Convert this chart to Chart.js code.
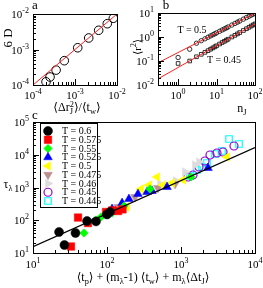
<!DOCTYPE html>
<html>
<head>
<meta charset="utf-8">
<script src="https://cdn.jsdelivr.net/npm/chart.js@4.4.1/dist/chart.umd.min.js"></script>
<style>
  body { margin: 0; width: 263px; height: 288px; position: relative; overflow: hidden; background: #fff;
         font-family: "Liberation Serif", "DejaVu Serif", serif; color: #000; }
  canvas { position: absolute; }
  .lbl { position: absolute; white-space: nowrap; line-height: 1; transform: translate(-50%, -50%); }
  .lbl sub, .lbl sup { font-size: 70%; line-height: 0; }
  .ss { display: inline-block; vertical-align: middle; line-height: 0.85; font-size: 70%; text-align: left; }
  .ss span { display: block; }
  .rot { transform: translate(-50%, -50%) rotate(-90deg); }
</style>
</head>
<body>
<canvas id="chartA" width="130" height="120" style="left:0;top:0"></canvas>
<canvas id="chartB" width="133" height="120" style="left:130px;top:0"></canvas>
<canvas id="chartC" width="263" height="173" style="left:0;top:115px"></canvas>

<div class="lbl" style="left:35px;top:4px;font-size:13px">a</div>
<div class="lbl rot" style="left:7px;top:38px;font-size:13px">6 D</div>
<div class="lbl" style="left:77px;top:108px;font-size:12px">⟨Δr<span class="ss"><span>2</span><span>J</span></span>⟩/⟨t<sub>w</sub>⟩</div>

<div class="lbl" style="left:166px;top:4px;font-size:13px">b</div>
<div class="lbl rot" style="left:137px;top:47px;font-size:11px">⟨r<sup>2</sup>⟩</div>
<div class="lbl" style="left:242px;top:108px;font-size:12px">n<sub>J</sub></div>
<div class="lbl" style="left:192px;top:30px;font-size:10px">T = 0.5</div>
<div class="lbl" style="left:224px;top:60px;font-size:10px">T = 0.45</div>

<div class="lbl" style="left:35px;top:114px;font-size:13px">c</div>
<div class="lbl" style="left:8px;top:184px;font-size:12px">τ<sub>λ</sub></div>
<div class="lbl" style="left:143px;top:277px;font-size:12px">⟨t<sub>p</sub>⟩ + (m<sub>λ</sub>-1) ⟨t<sub>w</sub>⟩ + m<sub>λ</sub>⟨Δt<sub>J</sub>⟩</div>

<script>
// panel a: 6D against <dr_J^2>/<t_w>
const aX = [2.04e-4, 2.54e-4, 3.55e-4, 5.56e-4, 1.16e-3, 2.12e-3, 3.66e-3, 5.87e-3, 8.17e-3];
const aY = [1.23e-4, 1.68e-4, 2.63e-4, 4.84e-4, 1.12e-3, 2.11e-3, 3.48e-3, 5.33e-3, 7.57e-3];
const aFit = [[1e-4, 1e-4], [1e-2, 1e-2]];

// panel b: <r^2> against n_J
const nJ = [1, 2, 3, 4, 5, 6, 7, 8, 9, 10, 12, 14, 16, 18, 20, 25, 30, 35, 40, 50, 60, 70, 80, 90, 100];
const r2T050 = [0.14, 0.31, 0.55, 0.70, 0.84, 0.98, 1.11, 1.24, 1.36, 1.49, 1.73, 1.96, 2.18, 2.40, 2.62,
                3.15, 3.66, 4.15, 4.63, 5.56, 6.45, 7.33, 8.17, 9.0, 9.8];
const r2T045 = [0.079, 0.10, 0.15, 0.19, 0.23, 0.27, 0.31, 0.35, 0.39, 0.43, 0.51, 0.59, 0.66, 0.74, 0.81,
                1.0, 1.17, 1.35, 1.53, 1.87, 2.21, 2.54, 2.87, 3.19, 3.52];
const fitT050 = [[0.3, 0.084], [100, 9.8]];
const fitT045 = [[0.3, 0.018], [100, 3.5]];

// panel c: tau_lambda against <t_p> + (m-1)<t_w> + m<dt_J>
const c060 = [[22.5, 43.8], [26.6, 17.5], [37.5, 40.8], [53.7, 95], [71, 92], [100, 150], [110, 180]];
const c0575 = [[32.6, 15.8], [40.6, 121], [55.3, 82], [97, 179], [118, 200], [141, 191], [162, 215]];
const c055 = [[48.9, 40.8], [71, 102], [83, 126], [117, 166], [170, 272], [381, 900], [1365, 2093]];
const c0525 = [[117, 221], [160, 336], [198, 446], [262, 634], [348, 729], [406, 782], [647, 1035], [2316, 3937]];
const c050 = [[186, 254], [288, 900], [370, 1191], [474, 2093], [571, 1191], [756, 1371], [1064, 1694], [4188, 8530]];
const c0475 = [[141, 254], [239, 513], [488, 966], [830, 1279]];
const c046 = [[520, 1279], [856, 1578], [1132, 2972], [1545, 4865], [1750, 6010]];
const c045 = [[1244, 2093], [1452, 2409], [1750, 4227], [2109, 6440], [2466, 9820], [3063, 11300], [3696, 12130], [5200, 18500]];
const c0445 = [[1324, 2245], [1644, 3420], [1923, 4227], [2245, 5600], [2879, 10540], [3578, 13030], [4458, 30270], [6081, 21300]];
const cFit = [[10, 15.5], [10000, 16500]];
const cLabels = ['T = 0.6', 'T = 0.575', 'T = 0.55', 'T = 0.525', 'T = 0.5', 'T = 0.475', 'T = 0.46', 'T = 0.45', 'T = 0.445'];

const cSeries = [c060, c0575, c055, c0525, c050, c0475, c046, c045, c0445];
const cColors = ['#000000', '#ff0000', '#00ff00', '#0000ff', '#ffff00', '#bc8f8f', '#dcdcdc', '#9400d3', '#00ffff'];
const cShapes = ['circle', 'rect', 'rectRot', 'triangle', 'triangle', 'triangle', 'triangle', 'circle', 'rect'];
const cRot = [0, 0, 0, 0, -90, 180, 90, 0, 0];
const cOpen = [false, false, false, false, false, false, false, true, true];
const cSize = [4.5, 5.3, 4.2, 5, 5, 5, 5, 4, 4.6];

const serif = '"Liberation Serif", "DejaVu Serif", serif';
const pts = (xs, ys) => xs.map((x, i) => ({ x: x, y: ys[i] }));
const pairs = arr => arr.map(p => ({ x: p[0], y: p[1] }));

// "10" with a raised exponent
function drawPow(ctx, exp, x, y, align) {
  const ex = String(exp);
  ctx.font = '11px ' + serif;
  const wb = ctx.measureText('10').width;
  ctx.font = '8px ' + serif;
  const we = ctx.measureText(ex).width;
  const x0 = align === 'right' ? x - wb - we : x - (wb + we) / 2;
  ctx.textAlign = 'left';
  ctx.textBaseline = 'alphabetic';
  ctx.font = '11px ' + serif;
  ctx.fillText('10', x0, y + 4);
  ctx.font = '8px ' + serif;
  ctx.fillText(ex, x0 + wb, y - 1);
}

// box, inward log ticks on bottom/left, and power labels
const logAxes = {
  id: 'logAxes',
  afterDraw(chart, args, opts) {
    const { ctx, chartArea: a, scales } = chart;
    const x = scales.x, y = scales.y;
    ctx.save();
    ctx.strokeStyle = '#000';
    ctx.fillStyle = '#000';
    ctx.lineWidth = 1;
    ctx.beginPath();
    for (let e = Math.floor(Math.log10(x.min)); e <= Math.ceil(Math.log10(x.max)); e++) {
      for (let m = 1; m < 10; m++) {
        const v = m * Math.pow(10, e);
        if (v < x.min * 0.999 || v > x.max * 1.001) continue;
        const p = Math.round(x.getPixelForValue(v)) + 0.5;
        ctx.moveTo(p, a.bottom);
        ctx.lineTo(p, a.bottom - (m === 1 ? 6 : 3));
      }
    }
    for (let e = Math.floor(Math.log10(y.min)); e <= Math.ceil(Math.log10(y.max)); e++) {
      for (let m = 1; m < 10; m++) {
        const v = m * Math.pow(10, e);
        if (v < y.min * 0.999 || v > y.max * 1.001) continue;
        const p = Math.round(y.getPixelForValue(v)) + 0.5;
        ctx.moveTo(a.left, p);
        ctx.lineTo(a.left + (m === 1 ? 6 : 3), p);
      }
    }
    ctx.stroke();
    ctx.strokeRect(Math.round(a.left) + 0.5, Math.round(a.top) + 0.5,
                   Math.round(a.right - a.left), Math.round(a.bottom - a.top));
    opts.xExp.forEach(e => drawPow(ctx, e, x.getPixelForValue(Math.pow(10, e)), a.bottom + opts.xGap, 'center'));
    opts.yExp.forEach(e => drawPow(ctx, e, a.left - 4, y.getPixelForValue(Math.pow(10, e)), 'right'));
    ctx.restore();
  }
};

// framed legend inside panel c
const boxLegend = {
  id: 'boxLegend',
  afterDraw(chart, args, opts) {
    const ctx = chart.ctx;
    ctx.save();
    ctx.fillStyle = '#fff';
    ctx.fillRect(opts.x, opts.y, opts.w, opts.h);
    ctx.strokeStyle = '#000';
    ctx.lineWidth = 1;
    ctx.strokeRect(opts.x + 0.5, opts.y + 0.5, opts.w, opts.h);
    let row = 0;
    chart.data.datasets.forEach(ds => {
      if (!ds.label) return;
      const cy = opts.y + opts.first + row * opts.step;
      row++;
      ctx.fillStyle = ds.pointBackgroundColor;
      ctx.strokeStyle = ds.pointBorderColor;
      ctx.lineWidth = ds.pointBorderWidth;
      Chart.helpers.drawPoint(ctx, {
        pointStyle: ds.pointStyle, rotation: ds.pointRotation, radius: ds.pointRadius,
        borderWidth: ds.pointBorderWidth
      }, opts.x + opts.mx, cy);
      ctx.fillStyle = '#000';
      ctx.font = '10px ' + serif;
      ctx.textBaseline = 'middle';
      ctx.textAlign = 'left';
      ctx.fillText(ds.label, opts.x + opts.tx, cy + 0.5);
    });
    ctx.restore();
  }
};

function logScale(min, max, size, horiz) {
  return {
    type: 'logarithmic', min: min, max: max,
    grid: { display: false }, border: { display: false },
    ticks: { display: false },
    afterFit(s) { if (horiz) s.height = size; else s.width = size; }
  };
}

function baseOptions(pad, xs, ys, axes) {
  return {
    responsive: false, animation: false,
    layout: { padding: pad },
    scales: { x: xs, y: ys },
    plugins: { legend: { display: false }, tooltip: { enabled: false }, logAxes: axes }
  };
}

// panel a
new Chart(document.getElementById('chartA'), {
  type: 'scatter',
  data: {
    datasets: [
      { data: pairs(aFit), showLine: true, borderColor: '#ff2020', borderWidth: 1, pointRadius: 0 },
      { data: pts(aX, aY), pointStyle: 'circle', pointRadius: 4.3, pointBorderWidth: 1,
        pointBorderColor: '#000', pointBackgroundColor: 'rgba(0,0,0,0)' }
    ]
  },
  options: baseOptions({ left: 0, top: 14, right: 13, bottom: 0 },
    logScale(1e-4, 1e-2, 35, true), logScale(1e-4, 1e-2, 33, false),
    { xExp: [-4, -3, -2], yExp: [-4, -3, -2], xGap: 10 }),
  plugins: [logAxes]
});

// panel b
new Chart(document.getElementById('chartB'), {
  type: 'scatter',
  data: {
    datasets: [
      { data: pairs(fitT050), showLine: true, borderColor: '#ff2020', borderWidth: 1, pointRadius: 0 },
      { data: pairs(fitT045), showLine: true, borderColor: '#ff2020', borderWidth: 1, pointRadius: 0 },
      { data: pts(nJ, r2T050), pointStyle: 'circle', pointRadius: 2.2, pointBorderWidth: 0.8,
        pointBorderColor: '#000', pointBackgroundColor: 'rgba(0,0,0,0)' },
      { data: pts(nJ, r2T045), pointStyle: 'rect', pointRadius: 2.6, pointBorderWidth: 0.8,
        pointBorderColor: '#000', pointBackgroundColor: 'rgba(0,0,0,0)' }
    ]
  },
  options: baseOptions({ left: 0, top: 13, right: 8, bottom: 0 },
    logScale(0.326, 100, 35, true), logScale(0.01, 10, 28, false),
    { xExp: [0, 1, 2], yExp: [-2, -1, 0, 1], xGap: 10 }),
  plugins: [logAxes]
});

// panel c
const cSets = [{ data: pairs(cFit), showLine: true, borderColor: '#000', borderWidth: 1.3, pointRadius: 0 }];
cSeries.forEach((s, i) => {
  cSets.push({
    label: cLabels[i], data: pairs(s),
    pointStyle: cShapes[i], pointRotation: cRot[i], pointRadius: cSize[i],
    pointBorderWidth: cOpen[i] ? 1.2 : 0.5,
    pointBorderColor: cColors[i],
    pointBackgroundColor: cOpen[i] ? 'rgba(0,0,0,0)' : cColors[i]
  });
});

new Chart(document.getElementById('chartC'), {
  type: 'scatter',
  data: { datasets: cSets },
  options: (() => {
    const o = baseOptions({ left: 0, top: 7, right: 8, bottom: 0 },
      logScale(10, 1e4, 35, true), logScale(10, 1e5, 33, false),
      { xExp: [1, 2, 3, 4], yExp: [1, 2, 3, 4, 5], xGap: 11 });
    o.plugins.boxLegend = { x: 40, y: 8, w: 57, h: 84, first: 8, step: 8.75, mx: 8, tx: 22 };
    return o;
  })(),
  plugins: [logAxes, boxLegend]
});
</script>
</body>
</html>
